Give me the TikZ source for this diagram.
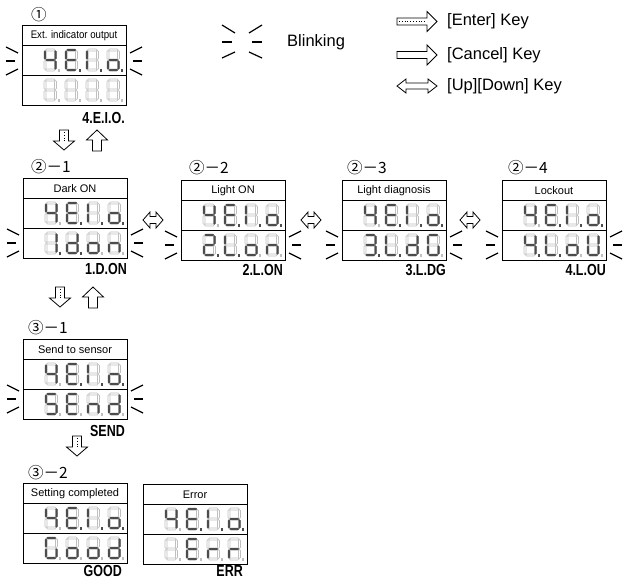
\documentclass[tikz,border=0pt]{standalone}
\usepackage{graphicx}
\usepackage{fontspec}
\setmainfont{Liberation Sans}
\newfontfamily\cjk{Noto Sans CJK JP}
\makeatletter
\newcommand\sg[3]{\in@{#1}{#2}\ifin@\filldraw[segon] #3;\else\filldraw[segoff] #3;\fi}
\makeatother
\newcommand\sdig[3]{%
 \begin{scope}[shift={(#1,#2)}]
  \sg{a}{#3}{(1.6,1)--(2.6,0)--(9.9,0)--(10.9,1)--(9.9,2)--(2.6,2)--cycle}
  \sg{g}{#3}{(1.6,11)--(2.6,10)--(9.9,10)--(10.9,11)--(9.9,12)--(2.6,12)--cycle}
  \sg{d}{#3}{(1.6,21)--(2.6,20)--(9.9,20)--(10.9,21)--(9.9,22)--(2.6,22)--cycle}
  \sg{f}{#3}{(1,1.6)--(2,2.6)--(2,9.4)--(1,10.4)--(0,9.4)--(0,2.6)--cycle}
  \sg{e}{#3}{(1,11.6)--(2,12.6)--(2,19.4)--(1,20.4)--(0,19.4)--(0,12.6)--cycle}
  \sg{b}{#3}{(11.5,1.6)--(12.5,2.6)--(12.5,9.4)--(11.5,10.4)--(10.5,9.4)--(10.5,2.6)--cycle}
  \sg{c}{#3}{(11.5,11.6)--(12.5,12.6)--(12.5,19.4)--(11.5,20.4)--(10.5,19.4)--(10.5,12.6)--cycle}
  \sg{p}{#3}{(13.8,20.2) rectangle (15.6,22)}
 \end{scope}}
% row: x of box, top y of row, four digit codes
\newcommand\drow[6]{%
 \sdig{#1+22}{#2+4}{#3}\sdig{#1+43}{#2+4}{#4}\sdig{#1+64}{#2+4}{#5}\sdig{#1+85}{#2+4}{#6}}
% display: name, x, y, title
\newcommand\dbox[4]{%
 \node[dbox] (#1) at (#2+52,#3+40) {};
 \draw[sep] ([yshift=-20pt]#1.north west) -- ([yshift=-20pt]#1.north east);
 \draw[sep] ([yshift=-50pt]#1.north west) -- ([yshift=-50pt]#1.north east);
 \node[ttl] (#1t) at (#2+52,#3+10.5) {#4};}
\newcommand\blinkL[2]{%
 \draw[bl] (#1-16,#2-14) -- (#1-4,#2-8);
 \draw[bl] (#1-16,#2) -- (#1-7,#2);
 \draw[bl] (#1-16,#2+14) -- (#1-4,#2+8);}
\newcommand\blinkR[2]{%
 \draw[bl] (#1+16,#2-14) -- (#1+4,#2-8);
 \draw[bl] (#1+16,#2) -- (#1+7,#2);
 \draw[bl] (#1+16,#2+14) -- (#1+4,#2+8);}
\newcommand\downarr[2]{%
 \draw[blockarr] (#1-4.5,#2)--(#1+4.5,#2)--(#1+4.5,#2+11)--(#1+10.5,#2+11)--(#1,#2+20)--(#1-10.5,#2+11)--(#1-4.5,#2+11)--cycle;
 \draw[dotted,line width=0.8pt] (#1,#2+2)--(#1,#2+13);}
\newcommand\uparr[2]{%
 \draw[blockarr] (#1,#2)--(#1+10.5,#2+10)--(#1+4.5,#2+10)--(#1+4.5,#2+21)--(#1-4.5,#2+21)--(#1-4.5,#2+10)--(#1-10.5,#2+10)--cycle;}
\newcommand\lrarr[2]{%
 \draw[blockarr] (#1-10,#2)--(#1-3,#2-8)--(#1-3,#2-3.5)--(#1+3,#2-3.5)--(#1+3,#2-8)--(#1+10,#2)--(#1+3,#2+8)--(#1+3,#2+3.5)--(#1-3,#2+3.5)--(#1-3,#2+8)--cycle;}
\begin{document}
\begin{tikzpicture}[x=1pt,y=-1pt,
 segon/.style={fill=black!70,draw=black!70,line width=0.4pt},
 segoff/.style={fill=white,draw=black!25,line width=0.55pt},
 dbox/.style={draw,line width=1pt,minimum width=104pt,minimum height=80pt,inner sep=0pt,outer sep=0pt},
 sep/.style={line width=1pt},
 ttl/.style={font=\fontsize{11}{13}\selectfont,inner sep=0pt},
 code/.style={font=\fontsize{16}{18}\selectfont\bfseries,inner sep=0pt,anchor=east},
 num/.style={font=\cjk\fontsize{15.5}{17}\selectfont,inner sep=0pt,anchor=west},
 bl/.style={line width=1.2pt},
 blockarr/.style={draw,line width=0.8pt,fill=white,line join=miter},
 keytxt/.style={font=\fontsize{16.5}{19}\selectfont,anchor=west,inner sep=0pt}]
\useasboundingbox[fill=white] (0,0) rectangle (623,579);

% ---------- legend ----------
\draw[bl] (222,25)--(235,33); \draw[bl] (222,42)--(232,42); \draw[bl] (222,58)--(235,52);
\draw[bl] (262,25)--(249,33); \draw[bl] (262,42)--(252,42); \draw[bl] (262,58)--(249,52);
\node[keytxt] (kblink) at (287,42) {Blinking};

\draw[blockarr] (397,18)--(427,18)--(427,11.5)--(437,21.5)--(427,31.5)--(427,25)--(397,25)--cycle;
\draw[dotted,line width=0.8pt] (399,21.5)--(425,21.5);
\node[keytxt] (kent) at (447,21.5) {[Enter] Key};
\draw[blockarr] (397,51.5)--(427,51.5)--(427,45)--(437,55)--(427,65)--(427,58.5)--(397,58.5)--cycle;
\node[keytxt] (kcan) at (447,55) {[Cancel] Key};
\draw[blockarr] (397,86)--(406,79)--(406,83)--(428,83)--(428,79)--(437,86)--(428,93)--(428,89)--(406,89)--(406,93)--cycle;
\node[keytxt] (kud) at (447,86) {[Up][Down] Key};

% ---------- displays ----------
% 1
\node[num] (n1) at (31,15) {①};
\dbox{d1}{22}{25}{\scalebox{0.88}[1]{\fontsize{11}{13}\selectfont Ext. indicator output}}
\drow{22}{45}{bcfg}{adefgp}{efp}{cdegp}
\drow{22}{75}{}{}{}{}
\blinkL{22}{61}\blinkR{126}{61}
\node[code] (c1) at (125,118) {\scalebox{0.78}[1]{4.E.I.O.}};

\downarr{64}{130}
\uparr{97}{130}

% 2-1
\node[num] (n21) at (31,167) {②－1};
\dbox{d21}{23}{178}{Dark ON}
\drow{23}{198}{bcfg}{adefgp}{efp}{cdegp}
\drow{23}{228}{bcp}{bcdegp}{cdeg}{ceg}
\blinkL{23}{243}\blinkR{127}{243}
\node[code] (c21) at (127,269) {\scalebox{0.78}[1]{1.D.ON}};

% 2-2
\node[num] (n22) at (189,168) {②－2};
\dbox{d22}{181}{180}{Light ON}
\drow{181}{200}{bcfg}{adefgp}{efp}{cdegp}
\drow{181}{230}{abdegp}{defp}{cdeg}{ceg}
\blinkL{181}{245}\blinkR{285}{245}
\node[code] (c22) at (283,270) {\scalebox{0.78}[1]{2.L.ON}};

% 2-3
\node[num] (n23) at (347,168) {②－3};
\dbox{d23}{342}{180}{Light diagnosis}
\drow{342}{200}{bcfg}{adefgp}{efp}{cdegp}
\drow{342}{230}{abcdgp}{defp}{bcdeg}{acdef}
\blinkL{342}{245}\blinkR{446}{245}
\node[code] (c23) at (446,270) {\scalebox{0.78}[1]{3.L.DG}};

% 2-4
\node[num] (n24) at (508,168) {②－4};
\dbox{d24}{502}{180}{Lockout}
\drow{502}{200}{bcfg}{adefgp}{efp}{cdegp}
\drow{502}{230}{bcfgp}{defp}{cdeg}{bcdef}
\blinkL{502}{245}\blinkR{606}{245}
\node[code] (c24) at (606,270) {\scalebox{0.78}[1]{4.L.OU}};

\lrarr{153}{220}
\lrarr{311}{220}
\lrarr{470}{220}

\downarr{60}{287}
\uparr{93}{287}

% 3-1
\node[num] (n31) at (28,328) {③－1};
\dbox{d31}{23}{339}{Send to sensor}
\drow{23}{359}{bcfg}{adefgp}{efp}{cdegp}
\drow{23}{389}{acdfg}{adefg}{ceg}{bcdeg}
\blinkL{23}{399}\blinkR{127}{399}
\node[code] (c31) at (125,431) {\scalebox{0.78}[1]{SEND}};

\downarr{77}{436}

% 3-2
\node[num] (n32) at (28,473) {③－2};
\dbox{d32}{23}{483}{Setting completed}
\drow{23}{503}{bcfg}{adefgp}{efp}{cdegp}
\drow{23}{533}{acdef}{cdeg}{cdeg}{bcdeg}
\node[code] (c32) at (122,570.5) {\scalebox{0.78}[1]{GOOD}};

% error
\dbox{de}{143}{484}{Error}
\drow{143}{504}{bcfg}{adefgp}{efp}{cdegp}
\drow{143}{534}{}{adefg}{eg}{eg}
\node[code] (ce) at (243,570.5) {\scalebox{0.78}[1]{ERR}};
\end{tikzpicture}
\end{document}
